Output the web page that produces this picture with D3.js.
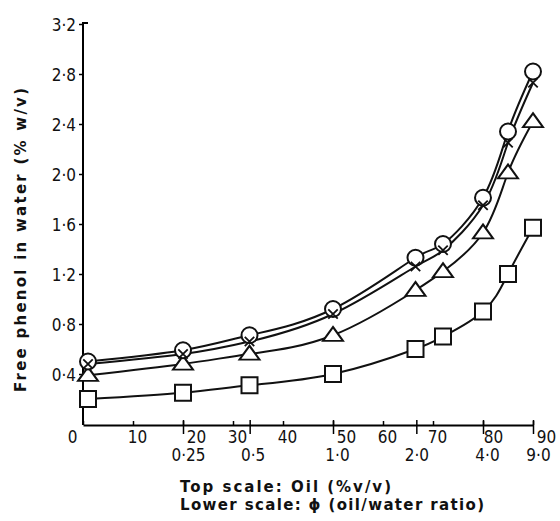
<!DOCTYPE html>
<html>
<head>
<meta charset="utf-8">
<script src="https://cdn.jsdelivr.net/npm/d3@7"></script>
<style>
  body { margin: 0; background: #fff; }
  svg { display: block; }
  .num { font-family: "Liberation Sans Narrow", "DejaVu Sans Condensed", sans-serif; font-size: 17px; fill: #111; }
  .title { font-family: "DejaVu Sans", sans-serif; font-weight: bold; font-size: 15px; fill: #111; }
</style>
</head>
<body>
<div id="chart"></div>
<script>
// Oil (% v/v) at which each set was measured
var oilPct = [1, 20, 33.3, 50, 66.5, 72, 80, 85, 90];

// free phenol in water (% w/v), one list per marker set
var circleVals   = [0.50, 0.59, 0.71, 0.92, 1.33, 1.44, 1.81, 2.34, 2.82];
var crossVals    = [0.48, 0.56, 0.66, 0.88, 1.26, 1.39, 1.75, 2.25, 2.73];
var triangleVals = [0.39, 0.48, 0.56, 0.71, 1.07, 1.22, 1.53, 2.01, 2.42];
var squareVals   = [0.20, 0.25, 0.31, 0.40, 0.60, 0.70, 0.90, 1.20, 1.57];

// axis ticks
var oilTicks = [0, 10, 20, 30, 40, 50, 60, 70, 80, 90];
var phiTicks = [0.25, 0.5, 1.0, 2.0, 4.0, 9.0];
var yTicks   = [0.4, 0.8, 1.2, 1.6, 2.0, 2.4, 2.8, 3.2];

var width = 560, height = 521;

var svg = d3.select("#chart").append("svg")
    .attr("width", width)
    .attr("height", height);

var x = d3.scaleLinear().domain([0, 90]).range([83, 533]);
var y = d3.scaleLinear().domain([0, 3.2]).range([424, 24]);

var dot = function(v, digits) { return v.toFixed(digits).replace(".", "\u00b7"); };
var phiToOil = function(p) { return 100 * p / (1 + p); };

// y axis
var yAxis = svg.append("g")
    .attr("transform", "translate(" + x(0) + ",0)")
    .call(d3.axisLeft(y).tickValues(yTicks).tickSize(4).tickSizeOuter(0).tickFormat(function(d) { return dot(d, 1); }));
yAxis.attr("font-size", null).attr("font-family", null);
yAxis.select(".domain").attr("stroke-width", 2).attr("d", "M0," + (y(0) + 1) + "V" + (y(3.2) - 1) + "h5");
yAxis.selectAll(".tick line").attr("stroke-width", 1.5);
yAxis.selectAll(".tick text").attr("class", "num").attr("x", -7).attr("dy", "0.36em");

// top scale on the x axis: oil %
var xTop = svg.append("g")
    .attr("transform", "translate(0," + (y(0) + 1) + ")")
    .call(d3.axisBottom(x).tickValues(oilTicks).tickSize(-4).tickSizeOuter(0));
xTop.attr("font-size", null).attr("font-family", null);
xTop.select(".domain").attr("stroke-width", 2);
xTop.selectAll(".tick line").attr("stroke-width", 1.5);
xTop.selectAll(".tick text")
    .attr("class", "num")
    .attr("y", 6)
    .attr("dx", function(d) { return d === 0 ? -11 : (d === 20 || d === 50 || d === 90 ? 13 : (d === 80 ? 10 : 4)); })
    .attr("dy", "0.71em");

// lower scale on the x axis: phi (oil/water ratio)
var xLow = svg.append("g")
    .attr("transform", "translate(0," + (y(0) + 1) + ")")
    .call(d3.axisBottom(x).tickValues(phiTicks.map(phiToOil)).tickSize(9).tickSizeOuter(0)
        .tickFormat(function(d, i) { return dot(phiTicks[i], phiTicks[i] < 0.3 ? 2 : 1); }));
xLow.attr("font-size", null).attr("font-family", null);
xLow.select(".domain").remove();
xLow.selectAll(".tick line").attr("stroke-width", 1.5).attr("y1", -5);
xLow.selectAll(".tick text")
    .attr("class", "num")
    .attr("y", 24)
    .attr("dx", function(d, i) { return [5, 3, 4, 0, 4, 5][i]; })
    .attr("dy", "0.71em");

// axis titles
svg.append("text")
    .attr("class", "title")
    .attr("transform", "translate(26,240) rotate(-90)")
    .attr("text-anchor", "middle")
    .attr("textLength", 304)
    .attr("lengthAdjust", "spacing")
    .text("Free phenol in water (% w/v)");

svg.append("text").attr("class", "title").attr("x", 180).attr("y", 492)
    .attr("textLength", 211).attr("lengthAdjust", "spacing")
    .text("Top scale: Oil (%v/v)");
svg.append("text").attr("class", "title").attr("x", 180).attr("y", 510)
    .attr("textLength", 304).attr("lengthAdjust", "spacing")
    .text("Lower scale: \u03d5 (oil/water ratio)");

// curves
var line = d3.line()
    .x(function(d) { return x(d[0]); })
    .y(function(d) { return y(d[1]); })
    .curve(d3.curveNatural);

var series = [circleVals, crossVals, triangleVals, squareVals];
series.forEach(function(vals) {
    svg.append("path")
        .datum(d3.zip(oilPct, vals))
        .attr("d", line)
        .attr("fill", "none")
        .attr("stroke", "#111")
        .attr("stroke-width", 2);
});

// markers
var pts = function(vals) { return d3.zip(oilPct, vals); };

svg.append("g").selectAll("rect")
    .data(pts(squareVals)).enter().append("rect")
    .attr("x", function(d) { return x(d[0]) - 8; })
    .attr("y", function(d) { return y(d[1]) - 8; })
    .attr("width", 16).attr("height", 16)
    .attr("fill", "#fff").attr("stroke", "#111").attr("stroke-width", 2);

var tri = d3.symbol().type(d3.symbolTriangle).size(110);
svg.append("g").selectAll("path")
    .data(pts(triangleVals)).enter().append("path")
    .attr("d", tri)
    .attr("transform", function(d) { return "translate(" + x(d[0]) + "," + (y(d[1]) + 1) + ") scale(1.25,1)"; })
    .attr("fill", "#fff").attr("stroke", "#111").attr("stroke-width", 1.8);

svg.append("g").selectAll("circle")
    .data(pts(circleVals)).enter().append("circle")
    .attr("cx", function(d) { return x(d[0]); })
    .attr("cy", function(d) { return y(d[1]); })
    .attr("r", 8)
    .attr("fill", "#fff").attr("stroke", "#111").attr("stroke-width", 2);

var crossPath = d3.symbol().type(d3.symbolX).size(60);
svg.append("g").selectAll("path")
    .data(pts(crossVals)).enter().append("path")
    .attr("d", crossPath)
    .attr("transform", function(d) { return "translate(" + x(d[0]) + "," + y(d[1]) + ")"; })
    .attr("fill", "none").attr("stroke", "#111").attr("stroke-width", 1.8);
</script>
</body>
</html>
